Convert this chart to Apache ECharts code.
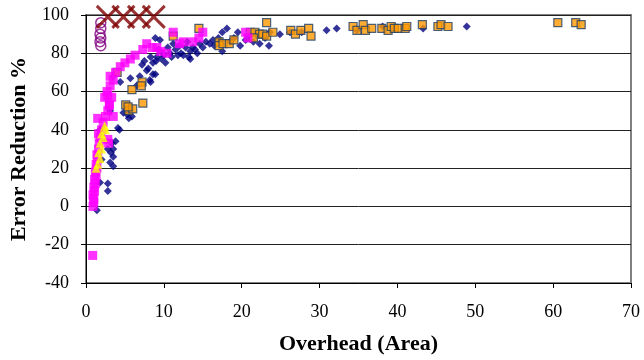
<!DOCTYPE html>
<html>
<head>
<meta charset="utf-8">
<script src="https://cdn.jsdelivr.net/npm/echarts@6/dist/echarts.min.js"></script>
<style>
  html, body { margin: 0; padding: 0; background: #fff; }
  #chart { width: 644px; height: 360px; }
</style>
</head>
<body>
<div id="chart"></div>
<script>
// values: [overhead, error reduction]
const navyPoints = [
  [1.4,-2],[1.8,12.5],[2.8,12],[2.8,8],[3.1,23],[2.0,24.5],[2.8,30],[3.3,33],[3.5,30],[3.5,26],
  [3.5,21],[3.2,28],[3.8,34],[1.8,40],[4.1,41],[4.3,40],[3.1,50],[4.8,49],[5.3,48],[5.9,47],
  [5.5,46],[3.5,68],[4.4,65],[5.7,67],[6.5,63],[6.9,68],[7.8,71],[8.2,66],[8.6,69],[8.3,65],
  [8.9,69],[8.6,75],[9.1,78],[9.9,80],[10.5,83],[11.2,85],[13.4,81],[13.7,83],[8.9,88],[9.5,87],
  [7.2,74],[7.5,76],[8.0,72],[8.3,78],[9.0,76],[9.3,82],[9.7,77],[10.0,79],[10.2,75],[10.8,80],
  [11.0,78],[11.5,82],[11.8,79],[12.0,84],[12.2,80],[12.5,79],[12.8,83],[13.0,86],[13.2,78],[13.4,77],
  [14.0,82],[14.3,80],[14.6,85],[15.0,83],[15.4,86],[15.9,85],[16.3,87],[16.5,84],[17.0,88],[17.5,91],
  [17.5,81],[18.1,93],[18.5,86],[19.0,88],[19.5,91],[19.8,84],[20.5,87],[21.0,89],[21.5,86],[22.3,85],
  [23.0,88],[23.5,84],[23.6,91],[24.9,90],[26.2,91],[27.7,91],[30.9,92],[32.2,93],[34.8,92],[38.1,94],
  [43.3,93],[48.9,94]
];
const orangePoints = [
  [4.0,70],[5.9,61],[7.2,65],[7.1,63],[7.3,54],[5.1,53],[5.5,50],[6.0,51],[5.4,52],[11.2,89],
  [14.5,93],[17.1,86],[17.1,84],[17.6,85],[18.4,85],[19.0,87],[21.1,91],[21.7,91],[22.3,90],[22.7,90],
  [23.2,89],[24.0,91],[21.5,88],[23.2,96],[26.3,92],[26.9,90],[27.6,92],[28.6,93],[28.9,89],[34.3,94],
  [34.8,92],[35.6,95],[35.9,92],[36.7,93],[38.0,93],[38.8,92],[39.2,94],[39.6,93],[40.1,93],[41.0,93],
  [41.2,94],[43.2,95],[45.2,94],[45.6,95],[46.5,94],[60.6,96],[62.9,96],[63.6,95]
];
const magentaPoints = [
  [0.86,-25.6],[0.9,0],[1.0,2],[1.0,4],[0.9,6],[1.1,8],[1.0,10],[1.2,12],[1.1,14],[1.3,16],
  [1.2,18],[1.4,20],[1.3,22],[1.5,25],[1.4,27],[1.6,30],[1.7,33],[1.8,36],[1.6,38],[2.0,40],
  [2.2,44],[2.5,47],[2.8,50],[3.0,53],[2.8,35],[2.9,33],[2.4,57],[2.7,60],[3.1,63],[3.1,68],
  [3.5,66],[3.8,70],[4.4,73],[5.0,75],[5.7,77],[6.3,79],[7.3,82],[7.8,85],[8.5,83],[9.1,83],
  [9.6,81],[10.4,80],[11.2,91],[12.0,85],[12.5,86],[13.7,86],[15.0,91],[14.5,88],[20.5,91],[20.8,88],
  [1.5,46],[3.5,47],[3.0,53],[2.8,58],[3.3,57]
];
const yellowPoints = [
  [1.5,22],[1.8,25],[1.6,28],[2.0,30],[1.8,33],[2.2,36],[2.0,38],[2.4,42],[1.3,20],[2.5,40]
];
const purplePoints = [[1.9,96],[1.9,93],[1.8,90],[1.9,88],[1.8,86],[1.9,84]];
const crossPoints = [[2.8,99],[4.8,99],[6.8,99],[8.7,99]];

const xTicks = [0, 70, 10];   // min, max, step
const yTicks = [-40, 100, 20];

const serif = '"Liberation Serif", "DejaVu Serif", serif';
const chart = echarts.init(document.getElementById('chart'));

chart.setOption({
  animation: false,
  backgroundColor: '#fff',
  grid: { left: 86, right: 13, top: 15, bottom: 76, show: true, borderColor: '#808080', borderWidth: 2 },
  xAxis: {
    type: 'value',
    min: xTicks[0], max: xTicks[1], interval: xTicks[2],
    name: 'Overhead (Area)',
    nameLocation: 'middle',
    nameGap: 50,
    nameTextStyle: { fontFamily: serif, fontWeight: 'bold', fontSize: 22, color: '#000' },
    axisLine: { onZero: false, lineStyle: { color: '#000', width: 1 } },
    axisTick: { show: true, length: 5, lineStyle: { color: '#000' } },
    axisLabel: { margin: 20, fontFamily: serif, fontSize: 18, color: '#000' },
    splitLine: { show: false }
  },
  yAxis: {
    type: 'value',
    min: yTicks[0], max: yTicks[1], interval: yTicks[2],
    name: 'Error Reduction %',
    nameLocation: 'middle',
    nameGap: 56,
    nameTextStyle: { fontFamily: serif, fontWeight: 'bold', fontSize: 22, color: '#000' },
    axisLine: { show: true, onZero: false, lineStyle: { color: '#000', width: 1 } },
    axisTick: { show: true, length: 5, lineStyle: { color: '#000' } },
    axisLabel: { margin: 17, fontFamily: serif, fontSize: 18, color: '#000' },
    splitLine: { show: true, lineStyle: { color: '#222', width: 1 } }
  },
  series: [
    {
      type: 'scatter', data: navyPoints, symbol: 'diamond', symbolSize: 8,
      itemStyle: { color: '#000080' }
    },
    {
      type: 'scatter', data: orangePoints, symbol: 'rect', symbolSize: 8,
      itemStyle: { color: '#FF9900', borderColor: '#1F3F66', borderWidth: 1.2 }
    },
    {
      type: 'scatter', data: magentaPoints, symbol: 'rect', symbolSize: 9,
      itemStyle: { color: '#FF00FF' }
    },
    {
      type: 'scatter', data: yellowPoints, symbol: 'triangle', symbolSize: 9,
      itemStyle: { color: '#FFFF00' }
    },
    {
      type: 'scatter', data: purplePoints, symbol: 'circle', symbolSize: 10,
      itemStyle: { color: 'none', borderColor: '#800080', borderWidth: 1.5 }
    },
    {
      type: 'scatter', data: crossPoints, symbol: 'path://M0,0L10,10M10,0L0,10', symbolSize: 22,
      itemStyle: { color: 'none', borderColor: '#800000', borderWidth: 3 }
    }
  ]
});
</script>
</body>
</html>
